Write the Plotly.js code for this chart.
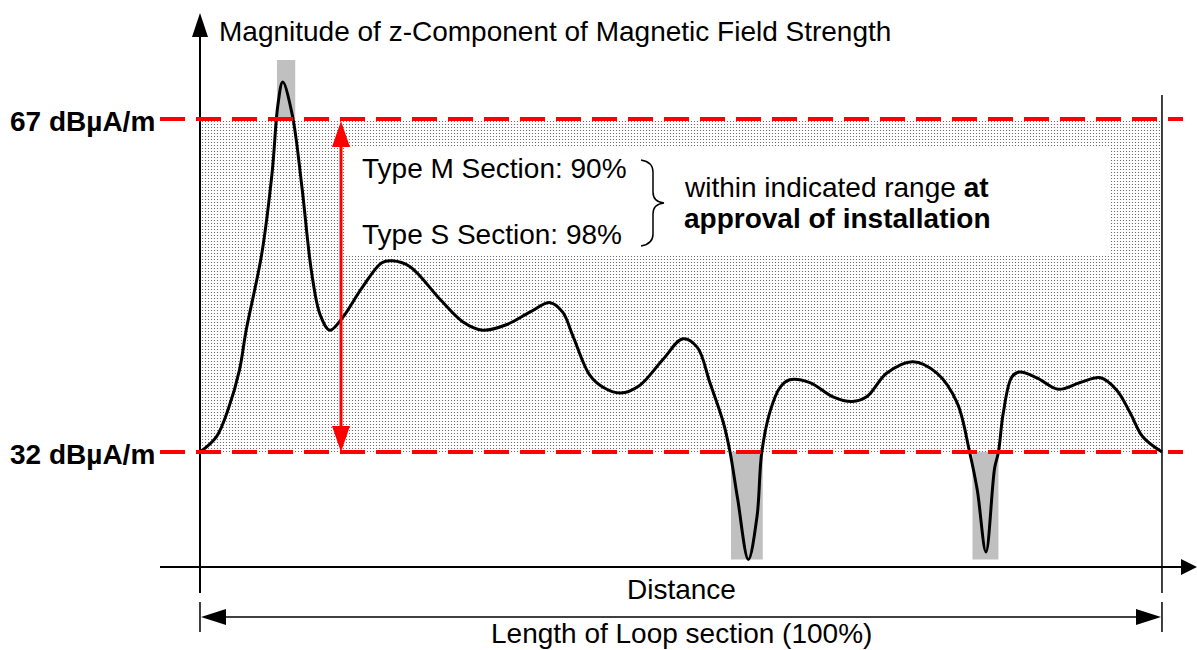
<!DOCTYPE html>
<html><head><meta charset="utf-8">
<script src="https://cdn.plot.ly/plotly-3.0.1.min.js"></script>
<style>html,body{margin:0;padding:0;background:#fff;overflow:hidden}</style>
</head><body><div id="chart" style="width:1197px;height:650px"></div>
<script>
// ---- data (distance in % of loop length, field in dBµA/m) ----
const distance = [0, 1.7, 3.0, 4.1, 4.8, 6.4, 7.5, 8.1, 8.6, 9.6, 10.6, 11.6, 12.5, 13.5, 14.8, 16.8, 18.9, 20.0,
  21.8, 25.0, 27.3, 29.4, 31.9, 34.3, 36.4, 37.7, 38.8, 40.5,
  41.9, 43.7, 45.7, 48.1, 50.2, 51.7, 53.0, 54.4, 55.1, 55.9, 57.0, 57.9, 58.4, 59.3, 60.3, 61.3,
  63.4, 65.8, 67.8, 69.3, 71.4, 74.1, 76.6, 78.7, 80.0, 80.8, 81.7,
  82.6, 83.0, 83.5, 84.4, 85.2, 87.0, 89.2, 91.5, 93.6, 95.3, 96.7, 98.0, 100];
const field = [32.0, 33.6, 36.7, 40.6, 44.8, 52.7, 61.4, 68.5, 70.9, 67.4, 59.8, 50.9, 46.4, 44.8, 46.1, 49.2, 51.9, 52.1,
  51.5, 48.0, 45.7, 44.8, 45.4, 46.7, 47.7, 46.7, 44.1, 40.1,
  38.8, 38.2, 39.0, 41.7, 43.9, 43.0, 39.3, 35.1, 32.0, 27.0, 20.7, 25.2, 32.0, 36.4, 38.8, 39.6,
  39.3, 37.8, 37.3, 37.8, 40.3, 41.5, 40.3, 37.2, 32.0, 28.0, 21.5,
  30.3, 32.0, 36.1, 39.9, 40.4, 39.8, 38.6, 39.3, 39.8, 38.5, 36.1, 33.6, 32.0];
const limits = [32, 67];
const limitLabels = ['32 dBµA/m', '67 dBµA/m'];
// out-of-range excursions (shaded grey)
const excStart = [8.0, 55.2, 80.3];
const excEnd   = [9.9, 58.5, 83.0];
const excFrom  = [67, 32, 32];
const excTo    = [73.2, 20.7, 20.7];
const loopStart = 0, loopEnd = 100;
const texts = {
  yTitle: 'Magnitude of z-Component of Magnetic Field Strength',
  xTitle: 'Distance',
  length: 'Length of Loop section (100%)',
  typeM: 'Type M Section: 90%',
  typeS: 'Type S Section: 98%',
  note1: 'within indicated range <b>at</b>',
  note2: '<b>approval of installation</b>'
};

// ---- geometry helpers ----
const W = 1197, H = 650;
const xr = [-20.79, 103.64], yr = [11.19, 79.51];
const fx = p => p / W, fy = p => 1 - p / H;
const dx = v => (v - xr[0]) / (xr[1] - xr[0]) * W;
const dy = v => H - (v - yr[0]) / (yr[1] - yr[0]) * H;
const P = (x, y) => fx(x).toFixed(5) + ',' + fy(y).toFixed(5);
function tri(tx, ty, dir, len, hw, color) {
  let pts;
  if (dir === 'up') pts = [[tx, ty], [tx - hw, ty + len], [tx + hw, ty + len]];
  if (dir === 'down') pts = [[tx, ty], [tx - hw, ty - len], [tx + hw, ty - len]];
  if (dir === 'left') pts = [[tx, ty], [tx + len, ty - hw], [tx + len, ty + hw]];
  if (dir === 'right') pts = [[tx, ty], [tx - len, ty - hw], [tx - len, ty + hw]];
  return {type: 'path', xref: 'paper', yref: 'paper', layer: 'above',
    path: 'M' + pts.map(p => P(p[0], p[1])).join(' L') + ' Z',
    fillcolor: color, line: {width: 0}};
}
function seg(x0, y0, x1, y1, color, width, dash) {
  return {type: 'line', xref: 'paper', yref: 'paper', layer: 'above',
    x0: fx(x0), y0: fy(y0), x1: fx(x1), y1: fy(y1),
    line: {color: color, width: width, dash: dash || 'solid'}};
}

const xL = dx(loopStart), xRt = dx(loopEnd);
const yHi = dy(limits[1]), yLo = dy(limits[0]);
const arrowX = 341;

const traces = [
  { // permitted range band (stippled)
    type: 'bar', x: [(loopStart + loopEnd) / 2], width: [loopEnd - loopStart],
    base: [limits[0]], y: [limits[1] - limits[0]], hoverinfo: 'skip',
    marker: {color: '#ffffff', line: {width: 0},
      pattern: {shape: '.', fgcolor: '#555555', bgcolor: '#ffffff', size: 3, solidity: 0.13, fillmode: 'replace'}}
  },
  { // excursions
    type: 'bar', x: excStart.map((s, i) => (s + excEnd[i]) / 2),
    width: excStart.map((s, i) => excEnd[i] - s),
    base: excFrom, y: excTo.map((t, i) => t - excFrom[i]),
    marker: {color: '#c0c0c0', line: {width: 0}}, hoverinfo: 'skip'
  },
  {
    type: 'scatter', mode: 'lines', x: distance, y: field,
    line: {color: '#000000', width: 3, shape: 'spline', smoothing: 1.0}, hoverinfo: 'skip'
  }
];

const shapes = [
  {type: 'rect', xref: 'paper', yref: 'paper', layer: 'above',
   x0: fx(345), x1: fx(1110), y0: fy(148), y1: fy(255), fillcolor: '#ffffff', line: {width: 0}},
  // axes
  seg(xL, 35, xL, 593, '#000', 2),
  seg(160, 567, 1184, 567, '#000', 2),
  tri(xL, 13, 'up', 24, 8, '#000'),
  tri(1197, 567, 'right', 16, 8, '#000'),
  // right end of loop
  seg(xRt, 95, xRt, 593, '#000', 1.5),
  // dimension line
  seg(xL, 602, xL, 632, '#000', 1.5),
  seg(xRt, 602, xRt, 632, '#000', 1.5),
  seg(xL + 20, 617, xRt - 20, 617, '#000', 1.5),
  tri(xL + 1, 617, 'left', 25, 8, '#000'),
  tri(xRt - 1, 617, 'right', 25, 8, '#000'),
  // red range arrow
  seg(arrowX, yHi + 20, arrowX, yLo - 20, '#ff0000', 3),
  tri(arrowX, yHi + 2, 'up', 26, 9, '#ff0000'),
  tri(arrowX, yLo, 'down', 26, 9, '#ff0000'),
  // brace
  {type: 'path', xref: 'paper', yref: 'paper', layer: 'above', line: {color: '#000', width: 1.5},
   path: 'M' + P(641, 160) + ' Q' + P(653, 162) + ' ' + P(653, 172) + ' L' + P(653, 192) +
         ' Q' + P(653, 202) + ' ' + P(664, 203) + ' Q' + P(653, 204) + ' ' + P(653, 214) +
         ' L' + P(653, 234) + ' Q' + P(653, 244) + ' ' + P(641, 246)}
];
// limit lines (dashed red)
limits.forEach(v => shapes.push({type: 'line', xref: 'paper', yref: 'y', layer: 'above',
  x0: fx(160), x1: fx(1183), y0: v, y1: v, line: {color: '#ff0000', width: 4, dash: '25px,11px'}}));

const font = {family: 'Liberation Sans, Arial, sans-serif', size: 28, color: '#000'};
const ann = (x, y, text, xa, extra) => Object.assign({xref: 'paper', yref: 'paper', x: fx(x), y: fy(y),
  text: text, showarrow: false, xanchor: xa, yanchor: 'middle', font: font}, extra || {});
const annotations = [
  ann(217, 31, texts.yTitle, 'left'),
  ann(157, yHi + 2, '<b>' + limitLabels[1] + '</b>', 'right'),
  ann(157, yLo + 2, '<b>' + limitLabels[0] + '</b>', 'right'),
  ann(360, 168, texts.typeM, 'left'),
  ann(360, 234, texts.typeS, 'left'),
  ann(682, 187, texts.note1, 'left'),
  ann(682, 219, texts.note2, 'left'),
  ann(681, 589, texts.xTitle, 'center'),
  ann(681, 633, texts.length, 'center')
];

const layout = {
  width: W, height: H, margin: {l: 0, r: 0, t: 0, b: 0},
  paper_bgcolor: '#fff', plot_bgcolor: '#fff', showlegend: false, barmode: 'overlay',
  xaxis: {range: xr, visible: false, fixedrange: true},
  yaxis: {range: yr, visible: false, fixedrange: true},
  shapes: shapes, annotations: annotations
};
Plotly.newPlot('chart', traces, layout, {displayModeBar: false, staticPlot: true});
</script></body></html>
